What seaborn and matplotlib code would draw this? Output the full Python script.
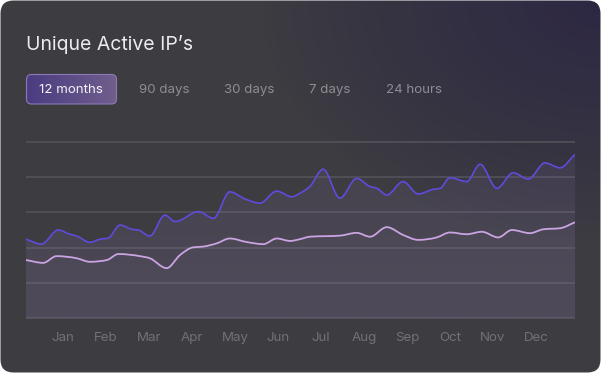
import numpy as np
import matplotlib
matplotlib.use("Agg")
import matplotlib.pyplot as plt
from matplotlib.path import Path
from matplotlib.patches import PathPatch, FancyBboxPatch
import seaborn as sns

# data (x = month position, Jan = 0)
months = ['Jan', 'Feb', 'Mar', 'Apr', 'May', 'Jun', 'Jul', 'Aug', 'Sep', 'Oct', 'Nov', 'Dec']
ranges = ['12 months', '90 days', '30 days', '7 days', '24 hours']

top_x = [-0.86, -0.50, -0.11, 0.16, 0.32, 0.63, 0.86, 1.05, 1.33, 1.60, 1.75, 2.02,
         2.37, 2.61, 3.15, 3.50, 3.88, 4.23, 4.58, 4.97, 5.32, 5.51, 5.74, 6.05,
         6.44, 6.83, 7.14, 7.30, 7.53, 7.91, 8.26, 8.61, 8.77, 9.00, 9.39, 9.70,
         10.09, 10.47, 10.82, 11.21, 11.56, 11.907]
top_y = [224, 210, 250, 238, 233, 215, 224, 227, 264, 252, 250, 233,
         292, 274, 302, 283, 358, 338, 326, 360, 344, 354, 373, 422,
         340, 396, 373, 368, 349, 387, 352, 365, 368, 398, 387, 436,
         368, 412, 394, 440, 426, 464]

low_x = [-0.86, -0.46, -0.15, 0.32, 0.63, 1.02, 1.29, 1.79, 2.02, 2.41, 2.72, 3.03,
         3.26, 3.57, 3.88, 4.27, 4.66, 4.97, 5.28, 5.51, 5.74, 6.44, 6.83, 7.14,
         7.53, 7.91, 8.26, 8.69, 9.00, 9.39, 9.74, 10.12, 10.44, 10.86, 11.17,
         11.56, 11.907]
low_y = [165, 157, 176, 170, 160, 165, 182, 176, 170, 142, 179, 201,
         203, 212, 226, 216, 210, 226, 219, 224, 231, 234, 242, 231,
         258, 236, 222, 229, 243, 238, 245, 229, 250, 241, 252,
         255, 272]

W, H = 601, 373


def smooth_path(xs, ys, close_to=None):
    # monotone cubic (like d3 curveMonotoneX) through the read points
    x = np.asarray(xs, float)
    y = np.asarray(ys, float)
    dx = np.diff(x)
    s = np.diff(y) / dx
    m = np.zeros_like(x)
    m[0], m[-1] = s[0], s[-1]
    for i in range(1, len(x) - 1):
        if s[i - 1] * s[i] > 0:
            p = (s[i - 1] * dx[i] + s[i] * dx[i - 1]) / (dx[i - 1] + dx[i])
            m[i] = np.sign(s[i]) * min(abs(s[i - 1]), abs(s[i]), 0.5 * abs(p)) * 2
    verts = [(x[0], y[0])]
    codes = [Path.MOVETO]
    for i in range(len(x) - 1):
        h = dx[i] / 3
        verts += [(x[i] + h, y[i] + m[i] * h), (x[i + 1] - h, y[i + 1] - m[i + 1] * h), (x[i + 1], y[i + 1])]
        codes += [Path.CURVE4] * 3
    if close_to is not None:
        verts += [(x[-1], close_to), (x[0], close_to), (x[0], y[0])]
        codes += [Path.LINETO, Path.LINETO, Path.CLOSEPOLY]
    return Path(verts, codes)


sns.set_theme(style='dark')
plt.rcParams['font.family'] = ['Inter', 'DejaVu Sans']

fig = plt.figure(figsize=(W / 100, H / 100), dpi=100)
fig.patch.set_facecolor('white')

# card background
bg = fig.add_axes([0, 0, 1, 1])
bg.set_xlim(0, W)
bg.set_ylim(H, 0)
bg.axis('off')
yy, xx = np.mgrid[0:H, 0:W]
d = np.sqrt(((W - xx) / 340.0) ** 2 + (yy / 240.0) ** 2)
wgt = np.clip(1 - d, 0, 1) ** 0.85
gray = np.array([61, 60, 65]) / 255
purp = np.array([45, 40, 67]) / 255
arr = gray[None, None, :] * (1 - wgt[..., None]) + purp[None, None, :] * wgt[..., None]
card = FancyBboxPatch((0.5, 0.5), W - 1, H - 1, boxstyle='round,pad=0,rounding_size=13',
                      transform=bg.transData, facecolor='none', edgecolor='none')
bg.add_patch(card)
im = bg.imshow(arr, extent=(0, W, H, 0), aspect='auto', interpolation='bilinear')
im.set_clip_path(card)

bg.text(26, 50, 'Unique Active IP’s', color='#ececf0', fontsize=14, va='baseline', ha='left')

# range selector
btn = FancyBboxPatch((26.5, 74.5), 90, 29.5, boxstyle='round,pad=0,rounding_size=5',
                     transform=bg.transData, facecolor='none', edgecolor='none')
bg.add_patch(btn)
grad = np.linspace(0, 1, 100)[None, :, None]
c0 = np.array([74, 60, 128]) / 255
c1 = np.array([112, 94, 140]) / 255
barr = np.repeat(c0 * (1 - grad) + c1 * grad, 2, axis=0)
bim = bg.imshow(barr, extent=(26, 117, 104, 74), aspect='auto', interpolation='bilinear')
bim.set_clip_path(btn)
bg.add_patch(FancyBboxPatch((26.5, 74.5), 90, 29.5, boxstyle='round,pad=0,rounding_size=5',
                            transform=bg.transData, facecolor='none', edgecolor='#8c79b8', lw=0.8))
bg.set_xlim(0, W)
bg.set_ylim(H, 0)
label_x = [39.3, 139.3, 224.3, 309, 385.7]
for i, (lab, lx) in enumerate(zip(ranges, label_x)):
    bg.text(lx, 93.3, lab, color='#f4f2f8' if i == 0 else '#8e8d93', fontsize=9.6,
            va='baseline', ha='left')

# chart
ax = fig.add_axes([26 / W, (H - 319.4) / H, 549 / W, (319.4 - 140.6) / H])
ax.set_facecolor('none')
ax.set_xlim(-0.86, 11.907)
ax.set_ylim(-3, 503)
ax.set_yticks(range(0, 501, 100))
ax.grid(axis='y', color='#56545c', lw=1.1)
ax.grid(axis='x', visible=False)
ax.tick_params(axis='y', length=0, labelleft=False)
ax.set_xticks(range(len(months)), months)
ax.tick_params(axis='x', length=0, pad=9, colors='#727177', labelsize=9.6)
sns.despine(ax=ax, left=True, bottom=True)

# gradient fill under the top series
fill_top = PathPatch(smooth_path(top_x, top_y, close_to=0), transform=ax.transData,
                     facecolor='none', edgecolor='none')
ax.add_patch(fill_top)
g = np.linspace(0, 1, 200)[:, None, None]
fc = np.array([150, 128, 190]) / 255
rgba = np.concatenate([np.broadcast_to(fc, (200, 2, 3)), (0.17 - 0.07 * g) * np.ones((200, 2, 1))], axis=2)
fim = ax.imshow(rgba, extent=(-0.86, 11.907, 0, 500), origin='lower', aspect='auto',
                interpolation='bilinear', zorder=1)
fim.set_clip_path(fill_top)
ax.add_patch(PathPatch(smooth_path(low_x, low_y, close_to=0), transform=ax.transData,
                       facecolor=(0.75, 0.65, 0.85, 0.03), edgecolor='none', zorder=1))

ax.add_patch(PathPatch(smooth_path(top_x, top_y), transform=ax.transData,
                       facecolor='none', edgecolor='#5f4bdc', lw=1.2, zorder=3))
ax.add_patch(PathPatch(smooth_path(low_x, low_y), transform=ax.transData,
                       facecolor='none', edgecolor='#caa4e2', lw=1.3, zorder=3))
ax.set_xlim(-0.86, 11.907)
ax.set_ylim(-3, 503)

fig.savefig('out.png', dpi=100, facecolor='white')
